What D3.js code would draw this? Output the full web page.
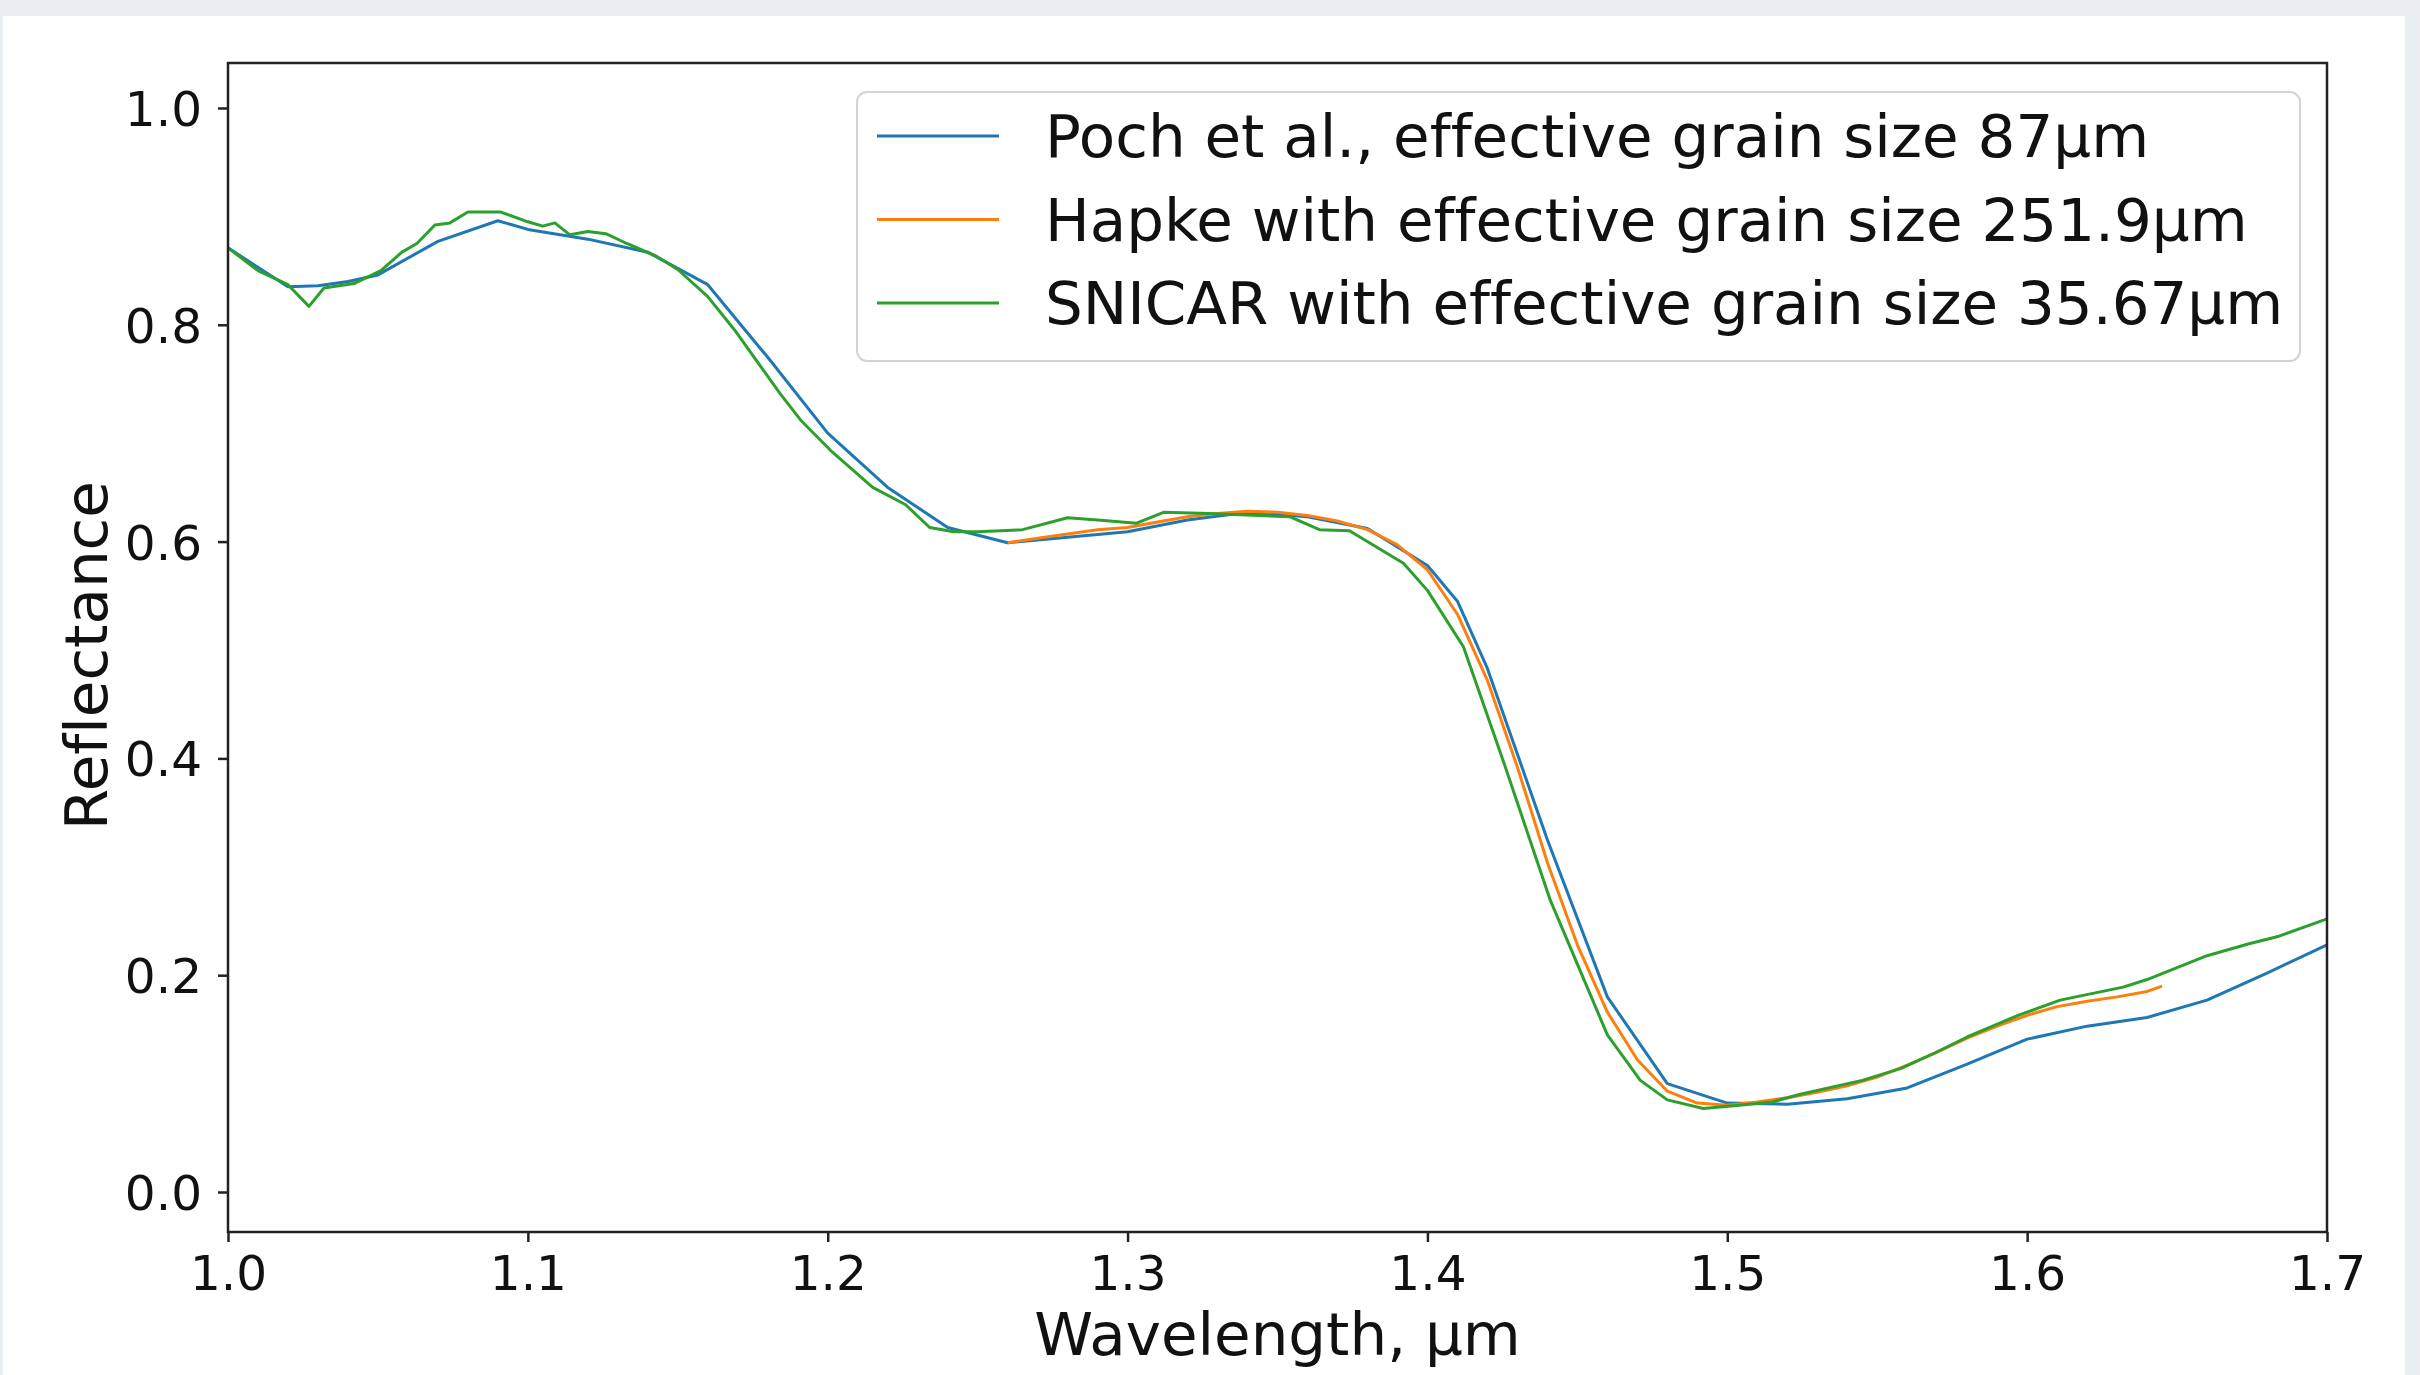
<!DOCTYPE html>
<html>
<head>
<meta charset="utf-8">
<script src="https://cdn.jsdelivr.net/npm/d3@7"></script>
<style>
  body { margin: 0; background: #e9eef0; }
  svg { display: block; }
  text { font-family: "DejaVu Sans", sans-serif; fill: #111; font-variant-ligatures: none; font-feature-settings: "liga" 0; }
</style>
</head>
<body>
<svg id="chart" width="2420" height="1375"></svg>
<script>
// Poch et al. measured spectrum
const pochX = [1.00, 1.02, 1.03, 1.04, 1.05, 1.07, 1.09, 1.10, 1.12, 1.14, 1.16, 1.18, 1.20, 1.22, 1.24, 1.26,
  1.28, 1.30, 1.32, 1.34, 1.36, 1.38, 1.40, 1.41, 1.42, 1.44, 1.46, 1.48, 1.50, 1.52, 1.54, 1.56, 1.58, 1.60,
  1.62, 1.64, 1.66, 1.68, 1.70]
const pochY = [0.871, 0.835, 0.836, 0.840, 0.846, 0.877, 0.896, 0.888, 0.879, 0.867, 0.837, 0.770, 0.700, 0.650, 0.613, 0.599,
  0.604, 0.609, 0.620, 0.627, 0.623, 0.612, 0.578, 0.545, 0.483, 0.325, 0.180, 0.100, 0.082, 0.081, 0.086, 0.096, 0.118, 0.141,
  0.153, 0.161, 0.177, 0.202, 0.228]

// Hapke model
const hapkeX = [1.26, 1.27, 1.28, 1.29, 1.30, 1.31, 1.32, 1.33, 1.34, 1.35, 1.36, 1.37, 1.38, 1.39, 1.40, 1.41,
  1.42, 1.43, 1.44, 1.45, 1.46, 1.47, 1.48, 1.49, 1.50, 1.51, 1.52, 1.53, 1.54, 1.55, 1.56, 1.57, 1.58,
  1.59, 1.60, 1.61, 1.62, 1.63, 1.64, 1.645]
const hapkeY = [0.599, 0.603, 0.607, 0.611, 0.613, 0.618, 0.623, 0.626, 0.628, 0.627, 0.624, 0.619, 0.611, 0.597, 0.574, 0.533,
  0.472, 0.392, 0.304, 0.228, 0.166, 0.122, 0.093, 0.082, 0.080, 0.083, 0.087, 0.092, 0.098, 0.106, 0.117, 0.129, 0.142,
  0.153, 0.163, 0.171, 0.176, 0.180, 0.185, 0.190]

// SNICAR model
const snicarX = [1.000, 1.010, 1.020, 1.027, 1.032, 1.042, 1.051, 1.058, 1.063, 1.069, 1.074, 1.080, 1.091, 1.100,
  1.105, 1.109, 1.114, 1.120, 1.126, 1.133, 1.143, 1.150, 1.160, 1.169, 1.184, 1.191, 1.201, 1.215, 1.226,
  1.234, 1.242, 1.250, 1.265, 1.280, 1.290, 1.303, 1.312, 1.327, 1.354, 1.364, 1.374, 1.392, 1.400, 1.412,
  1.425, 1.441, 1.460, 1.471, 1.480, 1.492, 1.504, 1.515, 1.524, 1.545, 1.558, 1.569, 1.580, 1.597, 1.611,
  1.632, 1.640, 1.660, 1.674, 1.684, 1.700]
const snicarY = [0.871, 0.850, 0.837, 0.817, 0.834, 0.838, 0.850, 0.867, 0.875, 0.892, 0.894, 0.904, 0.904, 0.895,
  0.891, 0.894, 0.883, 0.886, 0.884, 0.875, 0.863, 0.851, 0.826, 0.795, 0.737, 0.712, 0.684, 0.650, 0.634,
  0.613, 0.609, 0.609, 0.611, 0.622, 0.620, 0.617, 0.627, 0.626, 0.623, 0.611, 0.610, 0.580, 0.555, 0.503,
  0.400, 0.269, 0.145, 0.103, 0.085, 0.077, 0.080, 0.083, 0.090, 0.103, 0.114, 0.128, 0.143, 0.163, 0.177,
  0.189, 0.196, 0.218, 0.229, 0.236, 0.252]

const xTicks = [1.0, 1.1, 1.2, 1.3, 1.4, 1.5, 1.6, 1.7]
const yTicks = [0.0, 0.2, 0.4, 0.6, 0.8, 1.0]

const seriesNames = ["Poch et al., effective grain size 87µm",
  "Hapke with effective grain size 251.9µm",
  "SNICAR with effective grain size 35.67µm"]
const seriesColors = ["#1f77b4", "#ff7f0e", "#2ca02c"]

const series = [
  pochX.map((d, i) => [d, pochY[i]]),
  hapkeX.map((d, i) => [d, hapkeY[i]]),
  snicarX.map((d, i) => [d, snicarY[i]])
]

const margin = { top: 63, left: 228, right: 93, bottom: 143 },
  width = 2420 - margin.left - margin.right,
  height = 1375 - margin.top - margin.bottom

const labelSize = "59.5px"

const svg = d3.select("#chart")

// white panel behind the figure
svg.append("rect")
  .attr("x", 3).attr("y", 16)
  .attr("width", 2402).attr("height", 1375 - 16)
  .attr("fill", "#fff")

const g = svg.append("g")
  .attr("transform", `translate(${margin.left},${margin.top})`)

const x = d3.scaleLinear().domain([1.0, 1.7]).range([0, width])
const y = d3.scaleLinear().domain([-0.0369, 1.0415]).range([height, 0])

const line = d3.line()
  .x(d => x(d[0]))
  .y(d => y(d[1]))

g.selectAll(".series")
  .data(series)
  .enter()
  .append("path")
  .attr("class", "series")
  .attr("d", line)
  .attr("fill", "none")
  .attr("stroke", (d, i) => seriesColors[i])
  .attr("stroke-width", 3)
  .attr("stroke-linejoin", "round")

// axes
const xAxis = g.append("g")
  .attr("transform", `translate(0,${height})`)
  .call(d3.axisBottom(x).tickValues(xTicks).tickSize(10).tickPadding(14).tickFormat(d3.format(".1f")))

const yAxis = g.append("g")
  .call(d3.axisLeft(y).tickValues(yTicks).tickSize(10).tickPadding(16).tickFormat(d3.format(".1f")))

for (const ax of [xAxis, yAxis]) {
  ax.select(".domain").remove()
  ax.selectAll(".tick line").attr("stroke", "#222").attr("stroke-width", 2.5)
  ax.selectAll(".tick text")
    .style("font-family", "DejaVu Sans")
    .style("font-size", "48.5px")
    .attr("fill", "#111")
}
yAxis.selectAll(".tick text").attr("dy", "0.36em")

// frame
g.append("rect")
  .attr("width", width)
  .attr("height", height)
  .attr("fill", "none")
  .attr("stroke", "#222")
  .attr("stroke-width", 2.5)

// axis labels
svg.append("text")
  .attr("x", margin.left + width / 2)
  .attr("y", 1355)
  .attr("text-anchor", "middle")
  .style("font-size", labelSize)
  .text("Wavelength, µm")

svg.append("text")
  .attr("transform", `translate(107,${margin.top + height / 2 + 8}) rotate(-90)`)
  .attr("text-anchor", "middle")
  .style("font-size", labelSize)
  .text("Reflectance")

// legend
const legend = svg.append("g").attr("transform", "translate(857,92)")

legend.append("rect")
  .attr("width", 1443)
  .attr("height", 269)
  .attr("rx", 10)
  .attr("fill", "#fff")
  .attr("fill-opacity", 0.8)
  .attr("stroke", "#d3d3d3")
  .attr("stroke-width", 2)

const rows = legend.selectAll(".row")
  .data(seriesNames)
  .enter()
  .append("g")
  .attr("transform", (d, i) => `translate(0,${44 + i * 83.5})`)

rows.append("line")
  .attr("x1", 20).attr("x2", 142)
  .attr("stroke", (d, i) => seriesColors[i])
  .attr("stroke-width", 3)

rows.append("text")
  .attr("x", 188)
  .attr("y", 21)
  .style("font-size", labelSize)
  .text(d => d)
</script>
</body>
</html>
